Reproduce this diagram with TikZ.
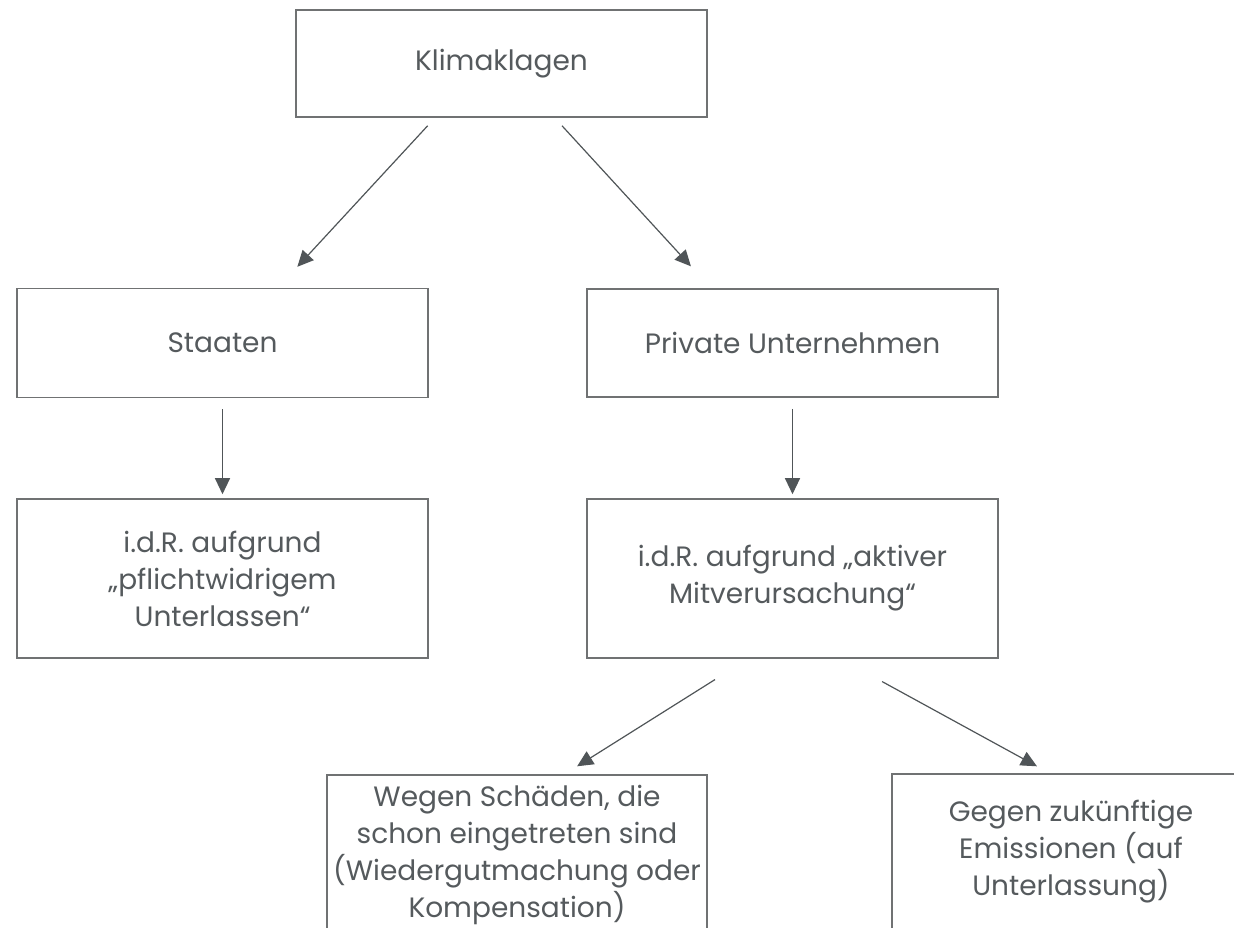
\documentclass[tikz,border=0pt]{standalone}
\usepackage{fontspec}
\setmainfont{Poppins}
\usetikzlibrary{arrows.meta}
\definecolor{boxgray}{HTML}{707273}
\definecolor{textgray}{HTML}{555A5D}
\definecolor{arrowgray}{HTML}{505558}

\tikzset{
  klagebox/.style={draw=boxgray, line width=1.6pt, text=textgray,
    align=center, inner sep=0pt,
    font=\fontsize{28}{37}\selectfont},
  pfeil/.style={draw=arrowgray, line width=1.2pt,
    -{Triangle[length=16pt,width=15pt]}}
}

\begin{document}
\begin{tikzpicture}[x=1pt,y=-1pt]
    \clip (0,0) rectangle (1234,927);
    \fill[white] (0,0) rectangle (1234,927);

    % Top box
    \node[klagebox, minimum width=411pt, minimum height=107pt] (klima) at (501.5,63.5) {Klimaklagen};

    % Second row
    \node[klagebox, minimum width=411pt, minimum height=109pt] (staaten) at (222.5,343) {Staaten};
    \node[klagebox, minimum width=411pt, minimum height=108pt] (privat) at (792.5,343) {Private Unternehmen};

    % Third row
    \node[klagebox, minimum width=411pt, minimum height=159pt] (unterlassen) at (222.5,578.5)
        {i.d.R. aufgrund\\„pflichtwidrigem\\Unterlassen“};
    \node[klagebox, minimum width=411pt, minimum height=159pt] (mitursache) at (792.5,578.5)
        {i.d.R. aufgrund „aktiver\\Mitverursachung“};

    % Bottom row (cut off by the page)
    \node[klagebox, minimum width=380pt, minimum height=160pt] (schaeden) at (517,855)
        {Wegen Schäden, die\\schon eingetreten sind\\(Wiedergutmachung oder\\Kompensation)};
    \node[klagebox, minimum width=358pt, minimum height=156pt] (emission) at (1071,852)
        {Gegen zukünftige\\Emissionen (auf\\Unterlassung)};

    % Arrows
    \draw[pfeil, shorten <=10.9pt, shorten >=28.5pt]
        ([xshift=-66.5pt]klima.south) -- ([xshift=55.5pt]staaten.north);
    \draw[pfeil, shorten <=10.8pt, shorten >=29.7pt]
        ([xshift=53.2pt]klima.south) -- ([xshift=-81.5pt]privat.north);
    \draw[pfeil, shorten <=11pt, shorten >=4pt] (staaten.south) -- (unterlassen.north);
    \draw[pfeil, shorten <=11pt, shorten >=4pt] (privat.south) -- (mitursache.north);
    \draw[pfeil, shorten <=39pt, shorten >=14.9pt]
        ([xshift=-44.5pt]mitursache.south) -- ([xshift=47.5pt]schaeden.north);
    \draw[pfeil, shorten <=47.4pt, shorten >=14.4pt]
        ([xshift=48pt]mitursache.south) -- ([xshift=-21.4pt]emission.north);
\end{tikzpicture}
\end{document}
